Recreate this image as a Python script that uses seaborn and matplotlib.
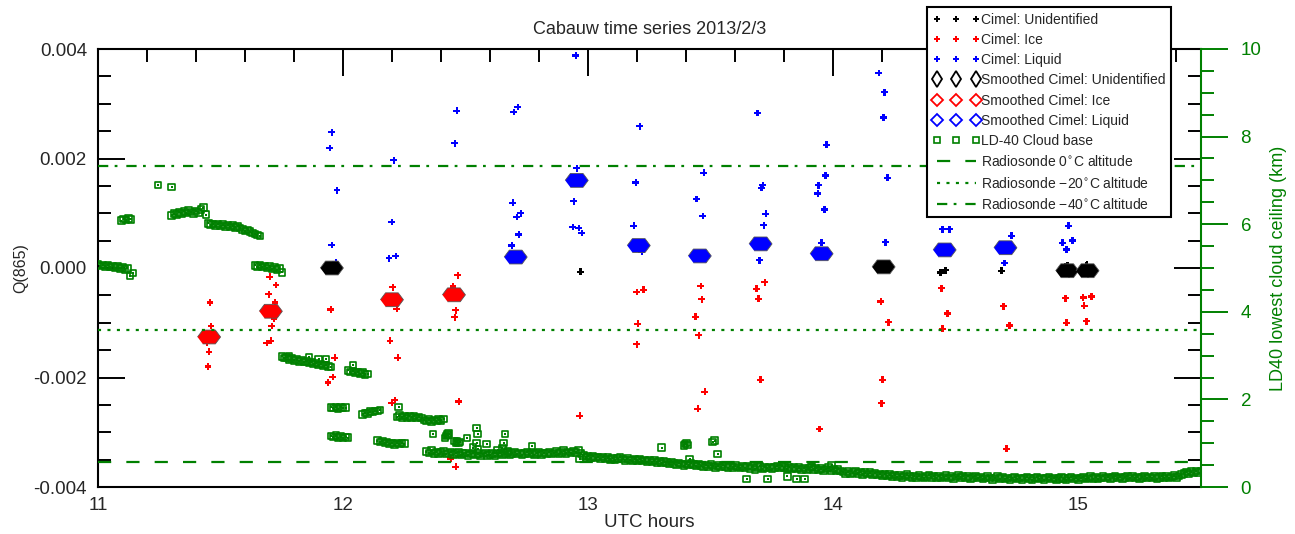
import numpy as np
import pandas as pd
import matplotlib
matplotlib.use("Agg")
import matplotlib.pyplot as plt
from matplotlib.lines import Line2D
from matplotlib.ticker import MultipleLocator, FormatStrFormatter
import seaborn as sns

# ---------------------------------------------------------------- data
# Cimel retrievals, Q(865) per phase (time in UTC hours)
ice_hours = [11.457, 11.461, 11.444, 11.453, 11.449,
             11.701, 11.726, 11.697, 11.722, 11.718, 11.709, 11.705, 11.689,
             11.950, 11.966, 11.958, 11.938,
             12.203, 12.219, 12.191, 12.223, 12.199, 12.211,
             12.468, 12.448, 12.460, 12.456, 12.472, 12.439, 12.460,
             12.965,
             13.198, 13.226, 13.202, 13.198,
             13.459, 13.463, 13.438, 13.451, 13.447, 13.476,
             13.720, 13.687, 13.695, 13.703,
             13.944,
             14.193, 14.225, 14.201, 14.197,
             14.441, 14.466, 14.445,
             14.694, 14.719, 14.706,
             14.947, 14.951,
             15.020, 15.053, 15.024, 15.033]
ice_q = [-0.00063, -0.00106, -0.00137, -0.00153, -0.00180,
         -0.00016, -0.00031, -0.00048, -0.00063, -0.00093, -0.00106, -0.00133, -0.00137,
         -0.00076, -0.00164, -0.00199, -0.00209,
         -0.00035, -0.00075, -0.00133, -0.00164, -0.00246, -0.00241,
         -0.00013, -0.00034, -0.00077, -0.00090, -0.00244, -0.00348, -0.00363,
         -0.00270,
         -0.00044, -0.00040, -0.00102, -0.00139,
         -0.00033, -0.00057, -0.00089, -0.00123, -0.00257, -0.00226,
         -0.00026, -0.00038, -0.00056, -0.00204,
         -0.00294,
         -0.00061, -0.00099, -0.00204, -0.00247,
         -0.00037, -0.00083, -0.00111,
         -0.00070, -0.00105, -0.00330,
         -0.00055, -0.00100,
         -0.00054, -0.00052, -0.00069, -0.00097]

liq_hours = [11.954, 11.946, 11.975, 11.954, 11.970,
             12.207, 12.199, 12.187, 12.215,
             12.464, 12.456,
             12.713, 12.696, 12.692, 12.725, 12.709, 12.717, 12.688,
             12.949, 12.953, 12.941, 12.937, 12.961, 12.974,
             13.210, 13.194, 13.186, 13.218,
             13.471, 13.442, 13.467,
             13.691, 13.712, 13.707, 13.724, 13.716, 13.699,
             13.972, 13.968, 13.940, 13.936, 13.964, 13.952,
             14.185, 14.209, 14.205, 14.221, 14.213,
             14.445, 14.474, 14.458, 14.437,
             14.727, 14.698,
             14.959, 14.935, 14.976, 14.951]
liq_q = [0.00248, 0.00219, 0.00142, 0.00042, 0.00011,
         0.00197, 0.00084, 0.00018, 0.00022,
         0.00287, 0.00228,
         0.00294, 0.00285, 0.00119, 0.00100, 0.00093, 0.00061, 0.00041,
         0.00388, 0.00182, 0.00122, 0.00075, 0.00073, 0.00064,
         0.00259, 0.00156, 0.00077, 0.00030,
         0.00174, 0.00126, 0.00095,
         0.00283, 0.00151, 0.00146, 0.00099, 0.00078, 0.00014,
         0.00225, 0.00169, 0.00151, 0.00136, 0.00107, 0.00046,
         0.00356, 0.00321, 0.00275, 0.00165, 0.00047,
         0.00071, 0.00071, 0.00151, 0.00113,
         0.00059, 0.00009,
         0.00077, 0.00046, 0.00050, 0.00034]

unid_hours = [12.969, 14.437, 14.458, 14.686,
              14.941, 14.947, 14.953, 14.959, 14.965, 14.955, 14.962,
              15.025, 15.031, 15.037, 15.043, 15.049, 15.034, 15.040]
unid_q = [-0.00007, -0.00008, -0.00004, -0.00005,
          -0.00002, 0.00003, -0.00010, 0.00001, -0.00006, 0.00005, -0.00012,
          -0.00003, 0.00004, -0.00011, 0.00002, -0.00007, 0.00006, -0.00012]

# Smoothed Cimel Q(865)
sm_ice_hours = [11.453, 11.705, 12.199, 12.452]
sm_ice_q = [-0.00126, -0.00079, -0.00058, -0.00049]
sm_liq_hours = [12.704, 12.953, 13.206, 13.455, 13.703, 13.952, 14.454, 14.702]
sm_liq_q = [0.00020, 0.00160, 0.00041, 0.00022, 0.00044, 0.00026, 0.00033, 0.00037]
sm_unid_hours = [11.954, 14.205, 14.954, 15.037]
sm_unid_q = [0.00000, 0.00002, -0.00005, -0.00005]

# LD-40 lowest cloud base (km), continuous runs sampled every 0.01 h
LD40_STEP = 0.01
ld40_run_starts = [11.00, 11.095, 11.30, 11.64, 11.75, 11.95, 11.95, 12.02,
                   12.08, 12.14, 12.22, 12.34]
ld40_run_a = [5.08, 5.05, 5.07, 5.04, 5.06, 5.02, 5.04, 5.01, 5.03, 4.99, 5.01, 4.97, 4.99]
ld40_run_b = [6.08, 6.12, 6.10, 6.13, 6.11]
ld40_run_c = [6.20, 6.24, 6.22, 6.27, 6.25, 6.29, 6.26, 6.31, 6.28, 6.25, 6.30, 6.27, 6.33, 6.38, 6.22,
              6.02, 5.99, 6.01, 5.97, 6.00, 5.96, 5.99, 5.95, 5.98, 5.94, 5.97, 5.93, 5.95, 5.91,
              5.88, 5.85, 5.87, 5.83, 5.80, 5.78, 5.75, 5.73]
ld40_run_d = [5.06, 5.03, 5.07, 5.02, 5.05, 5.00, 5.03, 4.98, 5.01, 4.96, 4.99]
ld40_run_e = [2.98, 2.94, 2.96, 2.91, 2.93, 2.89, 2.91, 2.87, 2.89, 2.85, 2.87, 2.83, 2.85, 2.81,
              2.83, 2.79, 2.81, 2.77, 2.79, 2.75, 2.74]
ld40_run_f = [1.82, 1.80, 1.83, 1.79, 1.82, 1.80, 1.81]
ld40_run_g = [1.16, 1.14, 1.17, 1.13, 1.15, 1.12, 1.14, 1.13]
ld40_run_h = [2.66, 2.63, 2.65, 2.61, 2.63, 2.59, 2.61, 2.57, 2.58]
ld40_run_i = [1.66, 1.69, 1.68, 1.72, 1.71, 1.74, 1.73, 1.76]
ld40_run_j = [1.06, 1.03, 1.05, 1.01, 1.03, 0.99, 1.01, 0.97, 1.00, 0.98, 1.01, 0.99]
ld40_run_k = [1.60, 1.63, 1.59, 1.62, 1.58, 1.61, 1.59, 1.62, 1.58, 1.60, 1.57,
              1.53, 1.51, 1.54, 1.50, 1.53, 1.51, 1.54, 1.52, 1.55]
ld40_run_low = [
    0.81, 0.78, 0.83, 0.77, 0.80, 0.76, 0.79, 0.82, 0.75, 0.78,
    0.80, 0.74, 0.77, 0.79, 0.73, 0.76, 0.78, 0.72, 0.75, 0.77,
    0.73, 0.76, 0.71, 0.75, 0.78, 0.72, 0.74, 0.77, 0.71, 0.75,
    0.78, 0.73, 0.76, 0.79, 0.74, 0.77, 0.80, 0.75, 0.78, 0.74,
    0.77, 0.80, 0.75, 0.78, 0.74, 0.77, 0.79, 0.74, 0.78, 0.76,
    0.79, 0.75, 0.78, 0.81, 0.76, 0.79, 0.83, 0.77, 0.80, 0.78,
    0.82, 0.79, 0.84, 0.76, 0.72, 0.68, 0.71, 0.66, 0.70, 0.67,
    0.69, 0.65, 0.68, 0.64, 0.67, 0.63, 0.66, 0.62, 0.65, 0.68,
    0.64, 0.61, 0.65, 0.62, 0.60, 0.64, 0.61, 0.63, 0.59, 0.62,
    0.58, 0.61, 0.57, 0.60, 0.56, 0.59, 0.55, 0.58, 0.56, 0.53,
    0.57, 0.54, 0.51, 0.55, 0.52, 0.49, 0.53, 0.50, 0.54, 0.51,
    0.48, 0.52, 0.49, 0.46, 0.50, 0.47, 0.51, 0.48, 0.45, 0.49,
    0.46, 0.50, 0.47, 0.44, 0.48, 0.45, 0.49, 0.46, 0.43, 0.47,
    0.44, 0.48, 0.42, 0.46, 0.40, 0.44, 0.47, 0.41, 0.45, 0.43,
    0.46, 0.42, 0.45, 0.48, 0.43, 0.47, 0.44, 0.41, 0.45, 0.42,
    0.45, 0.41, 0.44, 0.40, 0.43, 0.39, 0.42, 0.46, 0.40, 0.43,
    0.39, 0.42, 0.38, 0.41, 0.44, 0.38, 0.41, 0.37, 0.40, 0.36,
    0.34, 0.31, 0.35, 0.30, 0.33, 0.36, 0.31, 0.34, 0.29, 0.33,
    0.30, 0.33, 0.28, 0.31, 0.27, 0.30, 0.26, 0.29, 0.25, 0.28,
    0.24, 0.27, 0.23, 0.26, 0.22, 0.25, 0.28, 0.24, 0.21, 0.25,
    0.22, 0.26, 0.23, 0.20, 0.24, 0.27, 0.22, 0.25, 0.21, 0.24,
    0.20, 0.23, 0.26, 0.21, 0.24, 0.19, 0.23, 0.26, 0.22, 0.25,
    0.21, 0.24, 0.19, 0.22, 0.25, 0.20, 0.23, 0.18, 0.21, 0.24,
    0.20, 0.17, 0.21, 0.24, 0.19, 0.22, 0.18, 0.21, 0.16, 0.20,
    0.23, 0.18, 0.21, 0.17, 0.20, 0.23, 0.19, 0.16, 0.20, 0.22,
    0.18, 0.21, 0.17, 0.20, 0.23, 0.18, 0.21, 0.16, 0.19, 0.22,
    0.19, 0.16, 0.20, 0.23, 0.18, 0.21, 0.17, 0.20, 0.22, 0.18,
    0.21, 0.24, 0.19, 0.22, 0.18, 0.21, 0.24, 0.20, 0.23, 0.19,
    0.22, 0.25, 0.20, 0.23, 0.19, 0.22, 0.25, 0.21, 0.24, 0.20,
    0.23, 0.19, 0.22, 0.25, 0.20, 0.23, 0.21, 0.24, 0.19, 0.22,
    0.25, 0.21, 0.24, 0.20, 0.23, 0.26, 0.22, 0.25, 0.28, 0.31,
    0.34, 0.30, 0.35, 0.32, 0.36, 0.33, 0.37]
ld40_runs = [ld40_run_a, ld40_run_b, ld40_run_c, ld40_run_d, ld40_run_e, ld40_run_f,
             ld40_run_g, ld40_run_h, ld40_run_i, ld40_run_j, ld40_run_k, ld40_run_low]

# isolated LD-40 returns
ld40_iso_hours = [11.130, 11.143, 11.245, 11.300, 11.750, 11.780, 11.860, 11.900, 11.930,
                  12.040, 12.227, 12.366, 12.415, 12.420, 12.425, 12.427, 12.430,
                  12.455, 12.460, 12.465, 12.470, 12.475, 12.505, 12.530, 12.545, 12.545,
                  12.549, 12.550, 12.586, 12.630, 12.650, 12.655, 12.660, 12.670, 12.770,
                  12.965, 13.300, 13.390, 13.395, 13.400, 13.405, 13.414, 13.508, 13.516,
                  13.528, 13.646, 13.732, 13.813, 13.850, 13.883, 13.910, 13.993]
ld40_iso_km = [4.82, 4.89, 6.90, 6.85, 4.90, 2.98, 2.96, 2.92, 2.92,
               2.78, 1.83, 1.21, 1.12, 1.16, 1.20, 1.19, 1.22,
               1.05, 1.02, 1.04, 1.00, 1.03, 1.12, 0.90, 1.00, 1.35,
               1.21, 0.86, 0.98, 0.84, 0.88, 1.00, 1.21, 0.82, 0.94,
               0.64, 0.90, 0.95, 0.98, 1.00, 0.96, 0.64, 1.03, 1.06,
               0.75, 0.18, 0.18, 0.24, 0.18, 0.18, 0.46, 0.50]

# Radiosonde isotherm altitudes (km)
iso_0c_km = 0.58
iso_m20c_km = 3.58
iso_m40c_km = 7.33

# ---------------------------------------------------------------- tables
cimel = pd.concat([
    pd.DataFrame({"hour": unid_hours, "q": unid_q, "phase": "Unidentified"}),
    pd.DataFrame({"hour": ice_hours, "q": ice_q, "phase": "Ice"}),
    pd.DataFrame({"hour": liq_hours, "q": liq_q, "phase": "Liquid"}),
], ignore_index=True)
smoothed = pd.concat([
    pd.DataFrame({"hour": sm_unid_hours, "q": sm_unid_q, "phase": "Unidentified"}),
    pd.DataFrame({"hour": sm_ice_hours, "q": sm_ice_q, "phase": "Ice"}),
    pd.DataFrame({"hour": sm_liq_hours, "q": sm_liq_q, "phase": "Liquid"}),
], ignore_index=True)

run_frames = []
for start, vals in zip(ld40_run_starts, ld40_runs):
    hrs = start + LD40_STEP * np.arange(len(vals))
    run_frames.append(pd.DataFrame({"hour": hrs, "km": vals}))
run_frames.append(pd.DataFrame({"hour": ld40_iso_hours, "km": ld40_iso_km}))
ld40 = pd.concat(run_frames, ignore_index=True)

# ---------------------------------------------------------------- style
sns.set_style("white")
plt.rcParams["font.family"] = ["Liberation Sans", "DejaVu Sans"]
plt.rcParams["axes.unicode_minus"] = False
plt.rcParams["lines.scale_dashes"] = False

GREEN = "#008000"
phase_colors = {"Unidentified": "black", "Ice": "red", "Liquid": "blue"}

fig = plt.figure(figsize=(12.95, 5.34), dpi=100)
ax = fig.add_axes([98 / 1295, 1 - 487 / 534, 1103 / 1295, 438 / 534])
ax2 = ax.twinx()

# flattened hexagon used for the smoothed values
hexagon = [(-1.0, 0.0), (-0.55, 0.6), (0.55, 0.6), (1.0, 0.0), (0.55, -0.6), (-0.55, -0.6)]

sns.scatterplot(data=cimel, x="hour", y="q", hue="phase", palette=phase_colors,
                marker="P", s=24, linewidth=0, legend=False, ax=ax, zorder=3)
sns.scatterplot(data=smoothed, x="hour", y="q", hue="phase", palette=phase_colors,
                marker=hexagon, s=275, linewidth=0.6, edgecolor="#555555",
                legend=False, ax=ax, zorder=4)

# open squares with a dot in the middle
sns.scatterplot(data=ld40, x="hour", y="km", marker="s", s=22, color=GREEN,
                facecolors="none", edgecolor=GREEN, linewidth=1.2, legend=False,
                ax=ax2, zorder=2)
sns.scatterplot(data=ld40, x="hour", y="km", marker="s", s=1.2, color=GREEN,
                linewidth=0, legend=False, ax=ax2, zorder=2)

lw_ref = 1.6
ax2.axhline(iso_0c_km, color=GREEN, lw=lw_ref, dashes=(9.5, 10.9))
ax2.axhline(iso_m20c_km, color=GREEN, lw=lw_ref, dashes=(2.2, 4.6))
ax2.axhline(iso_m40c_km, color=GREEN, lw=lw_ref, dashes=(7.4, 4.6, 2.0, 6.4))

# ---------------------------------------------------------------- axes
ax.set_xlim(11, 15.5)
ax.set_ylim(-0.004, 0.004)
ax2.set_ylim(0, 10)

ax.xaxis.set_major_locator(MultipleLocator(1))
ax.xaxis.set_minor_locator(MultipleLocator(0.2))
ax.xaxis.set_major_formatter(FormatStrFormatter("%d"))
ax.yaxis.set_major_locator(MultipleLocator(0.002))
ax.yaxis.set_minor_locator(MultipleLocator(0.0005))
ax.yaxis.set_major_formatter(FormatStrFormatter("%.3f"))
ax2.yaxis.set_major_locator(MultipleLocator(2))
ax2.yaxis.set_minor_locator(MultipleLocator(0.5))
ax2.yaxis.set_major_formatter(FormatStrFormatter("%d"))

TICK_FS = 13.5
ax.tick_params(axis="both", which="both", direction="in", top=True, right=True,
               width=1.4, color="black", labelsize=TICK_FS)
ax.tick_params(axis="both", which="major", length=19.5)
ax.tick_params(axis="both", which="minor", length=9.5)
ax.tick_params(axis="y", which="major", pad=8)
ax.tick_params(axis="x", which="major", pad=7)

ax2.tick_params(axis="y", which="both", direction="out", colors=GREEN, width=1.4,
                labelsize=TICK_FS, pad=9)
ax2.tick_params(axis="y", which="major", length=19.5)
ax2.tick_params(axis="y", which="minor", length=9.5)

for side in ["left", "top", "bottom"]:
    ax.spines[side].set_color("black")
    ax.spines[side].set_linewidth(1.5)
    ax2.spines[side].set_visible(False)
ax.spines["right"].set_visible(False)
ax2.spines["right"].set_color(GREEN)
ax2.spines["right"].set_linewidth(1.5)

ax.set_xlabel("UTC hours", fontsize=13.5)
ax.set_ylabel("Q(865)", fontsize=11.5)
ax2.set_ylabel("LD40 lowest cloud ceiling (km)", fontsize=13, color=GREEN)
ax.xaxis.set_label_coords(0.5, -0.062)
ax.yaxis.set_label_coords(-0.063, 0.5)
ax2.yaxis.set_label_coords(1.063, 0.5)

fig.text(650 / 1295, 1 - 30 / 534, "Cabauw time series 2013/2/3",
         ha="center", va="center", fontsize=13)

# ---------------------------------------------------------------- legend
handles = [
    Line2D([], [], ls="none", marker="P", ms=4.5, mew=0, color="black"),
    Line2D([], [], ls="none", marker="P", ms=4.5, mew=0, color="red"),
    Line2D([], [], ls="none", marker="P", ms=4.5, mew=0, color="blue"),
    Line2D([], [], ls="none", marker="d", ms=8, mew=1.3, color="black", mfc="white"),
    Line2D([], [], ls="none", marker="D", ms=6, mew=1.3, color="red", mfc="white"),
    Line2D([], [], ls="none", marker="D", ms=6, mew=1.3, color="blue", mfc="white"),
    Line2D([], [], ls="none", marker="s", ms=4.4, mew=1.2, color=GREEN, mfc="white"),
    Line2D([], [], color=GREEN, lw=lw_ref, dashes=(9.5, 10.9)),
    Line2D([], [], color=GREEN, lw=lw_ref, dashes=(2.2, 4.6)),
    Line2D([], [], color=GREEN, lw=lw_ref, dashes=(7.4, 4.6, 2.0, 6.4)),
]
labels = [
    "Cimel: Unidentified",
    "Cimel: Ice",
    "Cimel: Liquid",
    "Smoothed Cimel: Unidentified",
    "Smoothed Cimel: Ice",
    "Smoothed Cimel: Liquid",
    "LD-40 Cloud base",
    "Radiosonde 0$^{\\circ}$C altitude",
    "Radiosonde \u221220$^{\\circ}$C altitude",
    "Radiosonde \u221240$^{\\circ}$C altitude",
]
leg = fig.legend(handles, labels, loc="upper left",
                 bbox_to_anchor=(927 / 1295, 1 - 7 / 534),
                 numpoints=3, fontsize=10, handlelength=3.4, handletextpad=0.1,
                 labelspacing=0.45, borderpad=0.4, borderaxespad=0,
                 frameon=True, fancybox=False, framealpha=1, edgecolor="black")
leg.get_frame().set_linewidth(1.5)

fig.savefig("out.png", dpi=100)
